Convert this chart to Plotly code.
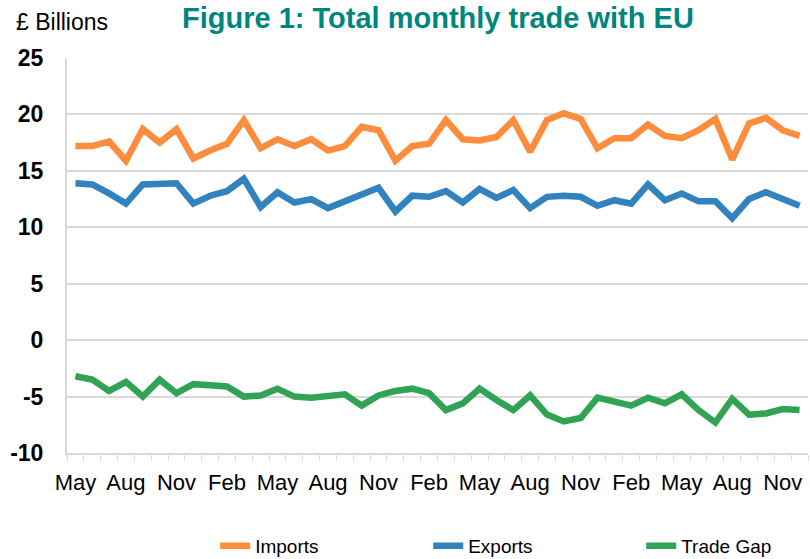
import plotly.graph_objects as go

months = ["May","Jun","Jul","Aug","Sep","Oct","Nov","Dec","Jan","Feb","Mar","Apr",
          "May","Jun","Jul","Aug","Sep","Oct","Nov","Dec","Jan","Feb","Mar","Apr",
          "May","Jun","Jul","Aug","Sep","Oct","Nov","Dec","Jan","Feb","Mar","Apr",
          "May","Jun","Jul","Aug","Sep","Oct","Nov","Dec"]

imports = [17.2,17.2,17.6,15.9,18.7,17.5,18.7,16.1,16.8,17.4,19.5,17.0,
           17.8,17.2,17.8,16.8,17.2,18.9,18.6,15.9,17.2,17.4,19.5,17.8,
           17.7,18.0,19.5,16.7,19.5,20.1,19.6,17.0,17.9,17.9,19.1,18.1,
           17.9,18.6,19.6,16.0,19.2,19.7,18.6,18.1]
exports = [13.9,13.8,13.0,12.1,13.8,13.9,13.9,12.1,12.8,13.2,14.3,11.8,
           13.1,12.2,12.5,11.7,12.3,13.0,13.5,11.4,12.8,12.7,13.2,12.2,
           13.4,12.6,13.3,11.7,12.7,12.8,12.7,11.9,12.4,12.1,13.8,12.4,
           13.0,12.3,12.3,10.8,12.5,13.1,12.5,11.9]
trade_gap = [-3.2,-3.5,-4.5,-3.7,-5.0,-3.5,-4.7,-3.9,-4.0,-4.1,-5.0,-4.9,
             -4.3,-5.0,-5.1,-5.0,-4.8,-5.8,-4.9,-4.5,-4.3,-4.7,-6.2,-5.6,
             -4.3,-5.3,-6.2,-4.9,-6.6,-7.2,-6.9,-5.1,-5.4,-5.8,-5.1,-5.6,
             -4.8,-6.2,-7.3,-5.2,-6.6,-6.5,-6.1,-6.2]
series_names = ["Imports", "Exports", "Trade Gap"]
y_ticks = [-10, -5, 0, 5, 10, 15, 20, 25]

x = list(range(len(months)))
tick_idx = x[::3]
tick_text = months[::3]

colors = ["#fd8d3c", "#3182bd", "#31a354"]
fig = go.Figure()
for name, vals, c in zip(series_names, [imports, exports, trade_gap], colors):
    fig.add_trace(go.Scatter(x=x, y=vals, mode="lines", name=name,
                             line=dict(color=c, width=6.5)))

FONT = "Liberation Sans, Arial, sans-serif"
fig.update_layout(
    width=810, height=559,
    paper_bgcolor="white", plot_bgcolor="white",
    margin=dict(l=67, r=2, t=58, b=106, autoexpand=False),
    font=dict(family=FONT, color="black"),
    showlegend=True,
    legend=dict(orientation="h", x=0.2, xanchor="left", y=1 + (58-546)/395, yanchor="middle",
                font=dict(size=19, family=FONT), entrywidth=168, entrywidthmode="pixels",
                bgcolor="rgba(0,0,0,0)", itemwidth=30),
    annotations=[
        dict(text="<b>Figure 1: Total monthly trade with EU</b>", xref="paper", yref="paper",
             x=0.5, y=1 + 58/395, xanchor="center", yanchor="top", showarrow=False,
             font=dict(size=29, color="#00857f", family=FONT)),
        dict(text="£ Billions", xref="paper", yref="paper", x=-67/741 + 14/741, y=1 + (58-22)/395,
             xanchor="left", yanchor="middle", showarrow=False,
             font=dict(size=23, color="black", family=FONT)),
    ],
)
fig.update_xaxes(
    range=[-0.5, len(months) - 0.5], tickmode="array", tickvals=tick_idx, ticktext=tick_text,
    ticks="", showgrid=False, zeroline=False, showline=True, linecolor="#d9d9d9", linewidth=2,
    tickfont=dict(size=22, family=FONT), ticklabelstandoff=9,
    minor=dict(ticks="outside", tick0=-0.5, dtick=1, ticklen=6, tickcolor="#d9d9d9", tickwidth=1, showgrid=False),
)
fig.update_yaxes(
    range=[-10, 25], tickmode="array", tickvals=y_ticks,
    ticktext=[f"<b>{v}</b>" for v in y_ticks],
    showgrid=True, gridcolor="#d9d9d9", gridwidth=2, zeroline=False,
    showline=True, linecolor="#d9d9d9", linewidth=2,
    tickfont=dict(size=23, family=FONT), ticks="", ticklabelstandoff=17,
)
fig.write_html("out.html", config={"displayModeBar": False},
               post_script="document.body.style.margin='0px';")
